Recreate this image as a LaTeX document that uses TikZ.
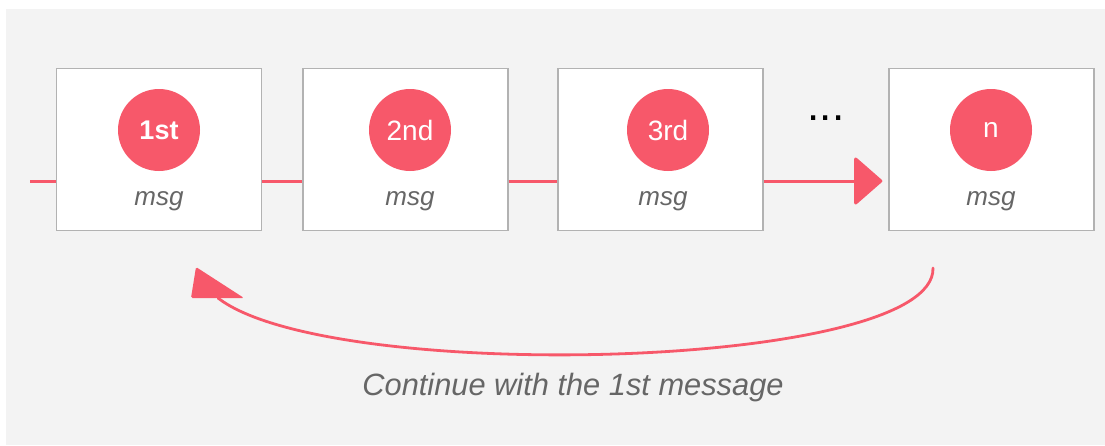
\documentclass[tikz,border=0pt]{standalone}
\usepackage{fontspec}
\setmainfont{Liberation Sans}
\usetikzlibrary{arrows.meta}
\definecolor{bgray}{RGB}{243,243,243}
\definecolor{coral}{RGB}{247,88,106}
\definecolor{edgegray}{RGB}{178,178,178}
\definecolor{txtgray}{RGB}{102,102,102}
\tikzset{
  msgbox/.style={draw=edgegray, line width=1.3pt, fill=white, minimum width=205pt, minimum height=162pt, inner sep=0pt},
  badge/.style={circle, fill=coral, minimum size=82pt, inner sep=0pt, text=white, font=\fontsize{28}{28}\selectfont},
  msglabel/.style={text=txtgray, font=\itshape\fontsize{26}{26}\selectfont},
  flow/.style={draw=coral, line width=3pt},
}
\begin{document}
\begin{tikzpicture}[x=1pt,y=-1pt]
  \useasboundingbox (0,0) rectangle (1105,445);
  \fill[bgray] (6,9) rectangle (1105,445);

  % message boxes
  \node[msgbox] (b1) at (159,149.5) {};
  \node[msgbox] (b2) at (405.5,149.5) {};
  \node[msgbox] (b3) at (660.5,149.5) {};
  \node[msgbox] (b4) at (991.5,149.5) {};

  % numbered badges
  \node[badge, font=\bfseries\fontsize{27}{27}\selectfont] (c1) at (159,130) {1st};
  \node[badge] (c2) at (410,130) {2nd};
  \node[badge] (c3) at (668,130) {3rd};
  \node[badge] (c4) at (991,130) {n};

  % captions
  \node[msglabel] (m1) at (159,201) {msg};
  \node[msglabel] (m2) at (410,201) {msg};
  \node[msglabel] (m3) at (663,201) {msg};
  \node[msglabel] (m4) at (991,201) {msg};

  \node[font=\fontsize{44}{44}\selectfont, anchor=base] (dots) at (826,120) {...};

  % the chain of messages
  \coordinate (in) at (30,181);
  \draw[flow] (in) -- (b1.west |- in);
  \draw[flow] (b1.east |- in) -- (b2.west |- in);
  \draw[flow] (b2.east |- in) -- (b3.west |- in);
  \draw[flow, -{Triangle[length=29pt,width=50pt,round]}, shorten >=6pt]
    (b3.east |- in) -- (b4.west |- in);

  % loop back to the first message
  \coordinate (from) at (933,268);
  \coordinate (to) at (218,298);
  \draw[draw=coral, line width=2.8pt, line cap=round]
    (from) .. controls (936,370) and (330,385) .. (to);
  \fill[coral, rounded corners=1.5pt] (196,267) -- (244,298) -- (191,298) -- cycle;

  \node[text=txtgray, font=\itshape\fontsize{30.8}{30.8}\selectfont] (note) at (573,388) {Continue with the 1st message};
\end{tikzpicture}
\end{document}
